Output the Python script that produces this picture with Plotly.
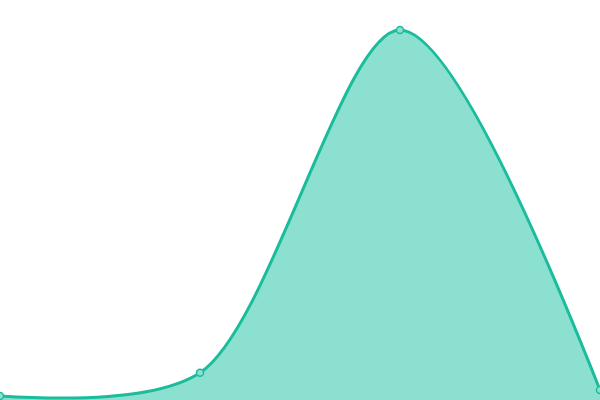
import plotly.graph_objects as go

x_vals = [0, 1, 2, 3]
y_vals = [1, 6.8, 92.5, 2.5]

fig = go.Figure()
fig.add_trace(go.Scatter(
    x=x_vals, y=y_vals,
    mode='lines+markers',
    line=dict(color='#1abc9c', width=3, shape='spline', smoothing=0.85),
    marker=dict(size=7, color='#8be0d0', line=dict(color='#1abc9c', width=1.5)),
    fill='tozeroy',
    fillcolor='#8be0d0',
    hoverinfo='skip',
    cliponaxis=False,
))

fig.update_layout(
    width=600, height=400,
    margin=dict(l=0, r=0, t=0, b=0),
    paper_bgcolor='white', plot_bgcolor='white',
    showlegend=False,
    xaxis=dict(range=[0, 3], visible=False),
    yaxis=dict(range=[0, 100], visible=False),
)

# page has a default 8px body margin, drop it so the plot fills the window
fig.write_html("out.html", config={'displayModeBar': False},
               post_script="document.body.style.margin='0';document.body.style.overflow='hidden';")
